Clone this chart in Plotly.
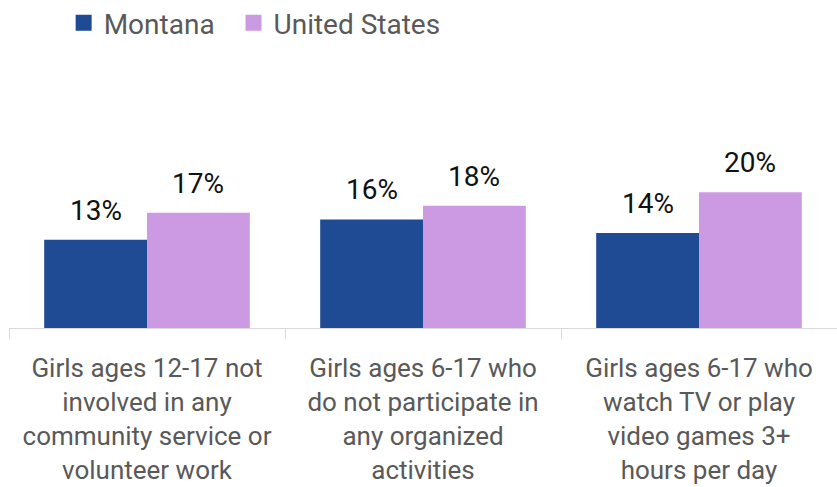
"""Girls' activity indicators: Montana vs United States."""

import plotly.graph_objects as go

categories = [
    "Girls ages 12-17 not<br>involved in any<br>community service or<br>volunteer work",
    "Girls ages 6-17 who<br>do not participate in<br>any organized<br>activities",
    "Girls ages 6-17 who<br>watch TV or play<br>video games 3+<br>hours per day",
]
montana = [13, 16, 14]
united_states = [17, 18, 20]

FONT = "Roboto, Open Sans, sans-serif"
GRAY = "#595959"

fig = go.Figure()
series = [
    ("Montana\u00a0\u00a0", montana, "#1F4A94", -51.4),
    ("United States", united_states, "#CC9AE2", 51.4),
]
for name, vals, color, shift in series:
    fig.add_trace(
        go.Bar(
            x=categories,
            y=vals,
            name=name,
            showlegend=False,
            marker={"color": color, "line": {"width": 0}},
        )
    )
    # legend-only entry with a bigger square swatch
    fig.add_trace(
        go.Scatter(
            x=[None],
            y=[None],
            mode="markers",
            name=name,
            marker={"symbol": "square", "size": 16, "color": color},
        )
    )
    # value labels, lifted a bit more than plotly's outside text
    for cat, v in zip(categories, vals):
        fig.add_annotation(
            x=cat,
            y=v,
            text=f"{v}%",
            showarrow=False,
            xshift=shift,
            yshift=11,
            yanchor="bottom",
            font={"size": 28, "color": "#111111", "family": FONT},
        )

fig.update_layout(
    width=837,
    height=487,
    margin={"l": 9, "r": 0, "t": 60, "b": 159},
    barmode="group",
    bargap=0.255,
    bargroupgap=0,
    paper_bgcolor="white",
    plot_bgcolor="white",
    font={"family": FONT, "color": GRAY, "size": 26},
    showlegend=True,
    legend={
        "orientation": "h",
        "x": 0.066,
        "y": 1 - 23 / 487,
        "xanchor": "left",
        "yanchor": "middle",
        "yref": "container",
        "font": {"size": 28, "color": GRAY},
        "itemwidth": 30,
        "tracegroupgap": 0,
    },
)
fig.update_xaxes(
    automargin=False,
    showline=True,
    linecolor="#d9d9d9",
    linewidth=1,
    ticks="outside",
    tickson="boundaries",
    ticklen=10,
    tickcolor="#d9d9d9",
    ticklabelstandoff=17,
    tickfont={"size": 26, "color": GRAY},
    showgrid=False,
)
fig.update_yaxes(visible=False, range=[0, 39.5], showgrid=False)

# drop the browser's default body margin so the figure sits at the page corner
fig.write_html(
    "out.html",
    config={"displayModeBar": False},
    post_script="document.body.style.margin='0';",
)
